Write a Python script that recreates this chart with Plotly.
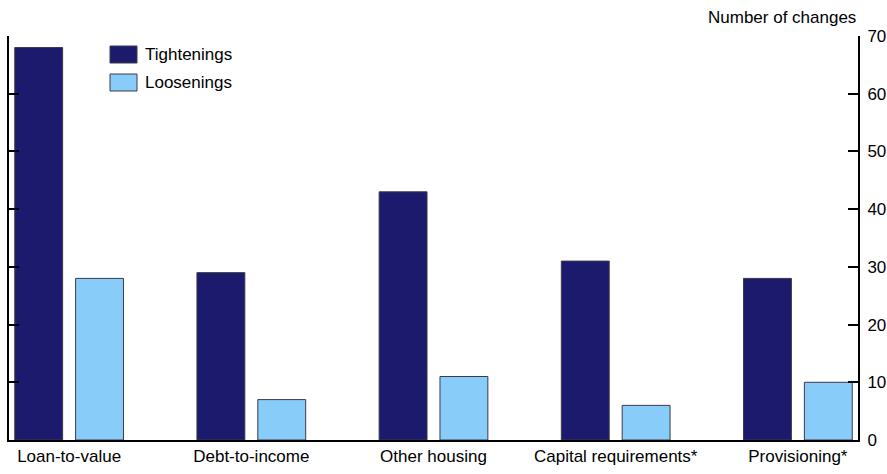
import plotly.graph_objects as go

categories = ["Loan-to-value", "Debt-to-income", "Other housing", "Capital requirements*", "Provisioning*"]
tightenings = [68, 29, 43, 31, 28]
loosenings = [28, 7, 11, 6, 10]
tick_vals = [0, 10, 20, 30, 40, 50, 60, 70]
series_names = ["Tightenings", "Loosenings"]
series_colors = ["#1b1a6c", "#88cdf9"]

FONT = "Liberation Sans Narrow, Arial Narrow, Liberation Sans, Arial"
xpos = list(range(len(categories)))

W, H = 887, 474
L, R, T, B = 9, 858, 36, 440
def px(x):
    return (x - L) / (R - L)
def py(y):
    return (B - y) / (B - T)

fig = go.Figure()
for name, vals, col in zip(series_names, [tightenings, loosenings], series_colors):
    fig.add_trace(go.Bar(x=xpos, y=vals, name=name, showlegend=False,
                         marker=dict(color=col, line=dict(color="#3a3a4a", width=1))))

fig.update_layout(
    width=W, height=H,
    margin=dict(l=L, r=W - R, t=T, b=H - B, autoexpand=False),
    plot_bgcolor="white", paper_bgcolor="white",
    barmode="group", bargap=0.332, bargroupgap=0.213,
    font=dict(family=FONT, size=17, color="black"),
    showlegend=False,
    xaxis=dict(range=[-0.33, 4.33], tickvals=xpos, ticktext=categories,
               showgrid=False, zeroline=False, showline=True, linecolor="black",
               linewidth=2, ticks="", tickfont=dict(size=17), automargin=False),
    yaxis=dict(range=[0, 70], tickvals=tick_vals, side="right",
               showgrid=False, zeroline=False, showline=True, linecolor="black",
               linewidth=2, ticks="inside", ticklen=10, tickwidth=2, tickcolor="black",
               mirror="ticks", tickfont=dict(size=17), automargin=False,
               ticklabelstandoff=4),
)

# manual legend with large swatches
for i, (name, col) in enumerate(zip(series_names, series_colors)):
    y0 = 46 + i * 28
    fig.add_shape(type="rect", xref="paper", yref="paper",
                  x0=px(110), x1=px(137), y0=py(y0 + 17), y1=py(y0),
                  fillcolor=col, line=dict(color="#3a3a4a", width=1))
    fig.add_annotation(text=name, xref="paper", yref="paper",
                       x=px(143), y=py(y0 + 8.5), xanchor="left", yanchor="middle",
                       showarrow=False, font=dict(family=FONT, size=17))

fig.add_annotation(text="Number of changes", xref="paper", yref="paper",
                   x=1.0, y=1.0, xanchor="right", yanchor="bottom", yshift=7,
                   showarrow=False, font=dict(family=FONT, size=17))
fig.write_html("out.html", config={"displayModeBar": False},
               post_script="document.body.style.margin='0';document.body.style.overflow='hidden';")
